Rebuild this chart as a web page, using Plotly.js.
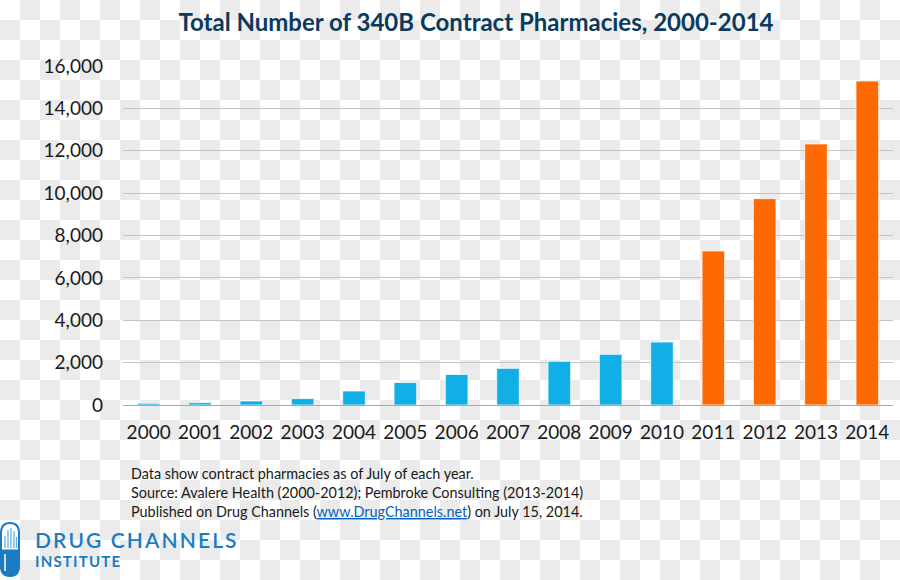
<!DOCTYPE html>
<html>
<head>
<meta charset="utf-8">
<script src="https://cdn.plot.ly/plotly-3.0.1.min.js"></script>
<style>
  html, body { margin: 0; padding: 0; }
  body {
    width: 900px; height: 580px; overflow: hidden;
    background: repeating-conic-gradient(#ebebeb 0 25%, #ffffff 0 50%) 0 0 / 40px 40px;
  }
  #chart { width: 900px; height: 580px; }
</style>
</head>
<body>
<div id="chart"></div>
<script>
// ---- data ----
var years = ['2000','2001','2002','2003','2004','2005','2006','2007',
             '2008','2009','2010','2011','2012','2013','2014'];
var pharmacies = [80, 110, 190, 300, 660, 1060, 1440, 1730,
                  2060, 2390, 2970, 7270, 9740, 12320, 15290];
var periodColors = ['#12aee6','#12aee6','#12aee6','#12aee6','#12aee6','#12aee6','#12aee6','#12aee6',
                    '#12aee6','#12aee6','#12aee6','#ff6a00','#ff6a00','#ff6a00','#ff6a00'];
var yTickVals = [0, 2000, 4000, 6000, 8000, 10000, 12000, 14000, 16000];
var yTickText = ['0','2,000','4,000','6,000','8,000','10,000','12,000','14,000','16,000'];
var titleText = 'Total Number of 340B Contract Pharmacies, 2000-2014';
var noteLines = [
  'Data show contract pharmacies as of July of each year.',
  'Source: Avalere Health (2000-2012); Pembroke Consulting (2013-2014)',
  'Published on Drug Channels (<span style="fill:#0563c1;text-decoration:underline">www.DrugChannels.net</span>) on July 15, 2014.'
];

// ---- layout geometry (pixels) ----
var L = 123, R = 893, T = 66, B = 405;
var W = R - L, H = B - T;
function px(x) { return (x - L) / W; }
function py(y) { return (B - y) / H; }

var logoBlue = '#1b7cc4';
var FONT = 'Lato, "Open Sans", sans-serif';

var annotations = [];
var noteY = [473, 492, 511];
for (var i = 0; i < noteLines.length; i++) {
  annotations.push({
    xref: 'paper', yref: 'paper', x: px(129), y: py(noteY[i]),
    xanchor: 'left', yanchor: 'middle', showarrow: false,
    text: noteLines[i], font: {family: FONT, size: 14.4, color: '#1a1a1a'}
  });
}
annotations.push({
  xref: 'paper', yref: 'paper', x: px(33), y: py(539),
  xanchor: 'left', yanchor: 'middle', showarrow: false,
  text: '<span style="letter-spacing:2.1px">DRUG CHANNELS</span>',
  font: {family: FONT, size: 21, color: logoBlue, weight: 600}
});
annotations.push({
  xref: 'paper', yref: 'paper', x: px(33), y: py(561),
  xanchor: 'left', yanchor: 'middle', showarrow: false,
  text: '<span style="letter-spacing:1.2px">INSTITUTE</span>',
  font: {family: FONT, size: 15, color: logoBlue, weight: 700}
});

function P(x, y) { return px(x) + ',' + py(y); }
var shapes = [
  // capsule outline
  {type: 'path', xref: 'paper', yref: 'paper', layer: 'above',
   path: 'M' + P(1,533) + ' Q' + P(1,523) + ' ' + P(10,523) + ' Q' + P(19,523) + ' ' + P(19,533) +
         ' L' + P(19,566) + ' Q' + P(19,576) + ' ' + P(10,576) + ' Q' + P(1,576) + ' ' + P(1,566) + ' Z',
   line: {color: logoBlue, width: 2}, fillcolor: 'rgba(255,255,255,0.9)'},
  // filled bottom half
  {type: 'path', xref: 'paper', yref: 'paper', layer: 'above',
   path: 'M' + P(1,550) + ' L' + P(19,550) + ' L' + P(19,566) + ' Q' + P(19,576) + ' ' + P(10,576) +
         ' Q' + P(1,576) + ' ' + P(1,566) + ' Z',
   line: {color: logoBlue, width: 1}, fillcolor: logoBlue},
  {type: 'line', xref: 'paper', yref: 'paper', layer: 'above',
   x0: px(5), x1: px(5), y0: py(554), y1: py(571), line: {color: '#ffffff', width: 1.5}}
];
var capsuleLines = [[5, 536], [8, 530], [11, 528], [14, 531], [16.5, 537]];
capsuleLines.forEach(function (c) {
  shapes.push({type: 'line', xref: 'paper', yref: 'paper', layer: 'above',
    x0: px(c[0]), x1: px(c[0]), y0: py(548), y1: py(c[1]),
    line: {color: '#5fb3e6', width: 1.3}});
});

var trace = {
  type: 'bar', x: years, y: pharmacies,
  marker: {color: periodColors, line: {color: 'rgba(255,255,255,0.7)', width: 1}},
  hoverinfo: 'x+y'
};

var layout = {
  width: 900, height: 580,
  paper_bgcolor: 'rgba(0,0,0,0)', plot_bgcolor: 'rgba(0,0,0,0)',
  margin: {l: L, r: 900 - R, t: T, b: 580 - B, pad: 0},
  bargap: 0.56,
  showlegend: false,
  title: {
    text: titleText, x: 476 / 900, xanchor: 'center', xref: 'container',
    y: 1 - 23 / 580, yanchor: 'middle', yref: 'container',
    font: {family: FONT, size: 24, color: '#0b3a5c', weight: 700}
  },
  xaxis: {
    type: 'category', showgrid: false, zeroline: false, showline: false, ticks: '',
    tickfont: {family: FONT, size: 19, color: '#1a1a1a'}, ticklabelstandoff: 14
  },
  yaxis: {
    range: [0, 16000], tickmode: 'array', tickvals: yTickVals, ticktext: yTickText,
    showgrid: true, gridcolor: '#c4c4c4', gridwidth: 1,
    zeroline: true, zerolinecolor: '#a8a8a8', zerolinewidth: 1,
    showline: false, ticks: '',
    tickfont: {family: FONT, size: 19, color: '#1a1a1a'}, ticklabelstandoff: 19
  },
  annotations: annotations,
  shapes: shapes
};

Plotly.newPlot('chart', [trace], layout, {displayModeBar: false, staticPlot: true});
</script>
</body>
</html>
